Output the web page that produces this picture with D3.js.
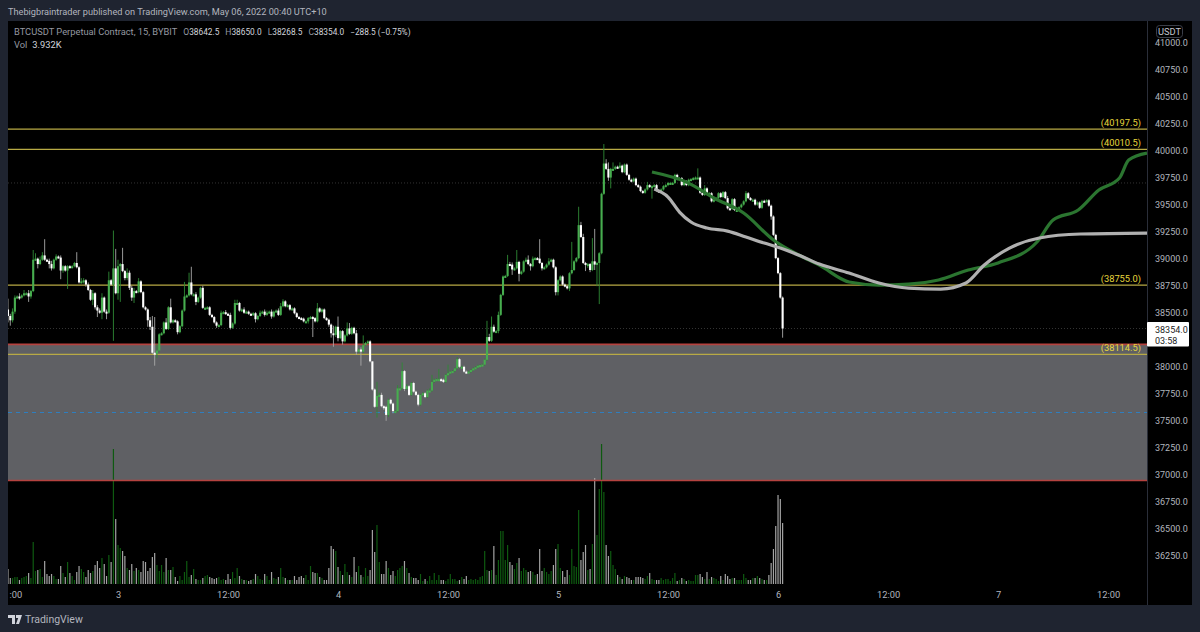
<!DOCTYPE html>
<html>
<head>
<meta charset="utf-8">
<script src="https://cdn.jsdelivr.net/npm/d3@7"></script>
<style>
  html, body { margin: 0; background: #1f2430; overflow: hidden; }
  text { font-family: Roboto, sans-serif; }
</style>
</head>
<body>
<svg id="chart" width="1200" height="632"></svg>
<script>
// 15 minute bars, first one is May 2 12:00
var closes = [
  38470,38430,38510,38640,38650,38640,38660,38680,38680,38650,
  38700,38990,39000,38950,38990,39030,38990,38980,38950,38910,
  38990,39020,39010,38890,38930,38890,38930,38920,38930,38960,
  38920,38780,38790,38800,38760,38710,38620,38680,38550,38520,
  38500,38640,38510,38500,38800,38760,38910,38680,38930,38950,
  38885,38820,38870,38730,38640,38700,38690,38790,38690,38550,
  38530,38430,38370,38130,38120,38150,38300,38310,38410,38350,
  38550,38410,38430,38420,38320,38375,38520,38650,38660,38780,
  38670,38670,38600,38640,38730,38545,38545,38550,38480,38460,
  38410,38380,38385,38500,38505,38490,38480,38360,38400,38590,
  38590,38520,38530,38500,38510,38490,38480,38495,38440,38470,
  38500,38510,38480,38500,38510,38465,38510,38520,38480,38560,
  38605,38560,38570,38530,38540,38495,38460,38450,38445,38420,
  38420,38450,38460,38450,38420,38540,38510,38530,38450,38435,
  38390,38310,38295,38370,38265,38330,38235,38290,38355,38305,
  38360,38310,38140,38160,38140,38200,38220,38235,38050,37790,
  37630,37730,37740,37635,37630,37555,37695,37660,37590,37590,
  37800,37800,37960,37795,37820,37740,37850,37770,37740,37650,
  37740,37755,37720,37780,37780,37860,37880,37885,37885,37880,
  37860,37925,37940,37955,37960,37985,38070,38000,38000,37955,
  37950,37955,37970,37985,37995,38010,38015,38020,38065,38275,
  38240,38370,38325,38330,38480,38665,38835,38840,38950,38945,
  38900,38910,38970,38860,38880,38975,38990,38950,38930,39000,
  39005,39000,38960,38910,38920,38945,38975,38990,38920,38690,
  38800,38835,38760,38745,38725,38865,38895,38975,39005,39310,
  39200,38960,38945,38950,38895,38975,38945,38960,39050,39600,
  39880,39830,39750,39830,39830,39850,39840,39860,39800,39870,
  39775,39730,39715,39740,39680,39665,39625,39610,39640,39680,
  39665,39670,39680,39630,39620,39640,39670,39680,39700,39700,
  39700,39775,39735,39745,39680,39715,39680,39730,39735,39745,
  39750,39750,39610,39590,39650,39605,39605,39530,39545,39560,
  39605,39570,39615,39560,39465,39460,39550,39450,39450,39475,
  39500,39530,39605,39560,39545,39545,39500,39520,39470,39535,
  39530,39540,39490,39390,39220,39005,38866,38640,38354
];
// wick length above / below the body, in price
var wickUp = [
  100,20,30,20,10,30,10,30,10,30,
  10,90,50,10,30,30,150,10,20,30,
  10,20,10,20,10,10,10,10,10,10,
  100,10,30,20,10,20,10,30,10,20,
  20,40,10,20,80,10,350,180,60,10,
  150,10,40,20,20,30,10,30,10,10,
  10,10,30,100,330,60,10,10,10,40,
  10,80,10,10,10,10,10,135,10,90,
  145,10,20,10,10,20,10,10,10,10,
  10,10,10,20,10,20,10,20,10,30,
  30,10,10,20,10,10,10,10,10,10,
  20,10,20,20,10,20,10,10,20,30,
  20,10,10,10,10,10,10,10,10,10,
  10,10,10,10,10,50,10,10,10,10,
  10,10,70,10,95,10,10,10,55,50,
  10,10,30,10,20,90,10,10,10,0,
  10,130,20,20,10,10,10,10,10,10,
  30,10,80,10,20,10,10,10,10,10,
  10,10,10,10,20,65,10,10,95,10,
  10,10,80,10,10,10,20,10,10,10,
  10,10,10,10,10,10,10,10,10,150,
  30,95,20,10,30,10,10,10,85,20,
  20,10,110,10,10,10,20,40,10,20,
  10,10,180,10,10,10,30,10,10,10,
  10,10,10,10,10,10,260,10,10,170,
  30,30,10,10,10,215,300,10,10,10,
  180,40,60,10,60,10,10,30,10,10,
  10,10,10,10,10,10,10,10,10,30,
  10,10,10,10,10,10,10,10,10,10,
  10,10,10,10,10,10,10,10,10,10,
  10,85,10,10,30,10,10,10,10,10,
  10,10,10,10,20,10,10,10,10,10,
  10,10,20,10,10,10,10,10,10,10,
  10,10,10,10,10,10,10,10,10
];
var wickDown = [
  60,50,20,20,10,20,10,10,10,50,
  20,10,10,40,10,10,10,10,40,20,
  10,10,10,80,20,10,170,10,10,10,
  10,10,10,20,20,10,10,50,20,60,
  10,60,10,60,10,10,520,10,60,330,
  10,20,20,20,30,50,10,10,10,10,
  10,60,30,10,110,40,10,10,10,10,
  10,10,10,10,20,10,10,10,10,10,
  10,10,30,10,10,10,10,10,10,10,
  10,20,10,10,10,10,10,15,10,10,
  10,10,10,10,10,10,10,10,30,10,
  10,10,15,10,10,20,10,10,10,10,
  10,10,10,10,10,10,10,10,10,10,
  10,20,10,175,10,10,10,10,10,10,
  20,40,110,20,30,10,30,10,10,10,
  10,10,30,10,130,10,10,10,10,10,
  10,100,10,10,30,55,20,10,20,10,
  10,10,10,20,10,10,10,10,10,15,
  10,10,10,10,10,10,10,10,10,10,
  10,10,10,10,10,10,10,10,10,10,
  10,10,10,10,10,10,10,10,10,10,
  10,10,10,10,20,10,10,10,10,10,
  50,10,10,70,10,10,10,10,40,10,
  10,10,10,20,10,10,10,10,10,30,
  30,10,10,10,10,25,10,10,10,10,
  10,10,60,30,20,10,50,200,380,10,
  10,10,30,100,10,10,10,10,10,10,
  10,10,10,10,10,10,10,10,10,10,
  10,110,10,10,10,10,10,10,10,10,
  10,10,10,10,10,10,10,10,10,10,
  10,10,10,10,10,10,10,10,10,10,
  10,10,10,10,10,10,10,10,10,10,
  10,10,10,10,10,20,10,10,10,10,
  10,10,10,30,10,10,10,10,85
];
var volumes = [
  15,6,6,7,7,4,6,7,8,11,
  6,42,13,14,15,7,23,10,8,10,
  8,5,5,18,11,7,22,11,8,4,
  12,18,15,12,7,14,11,13,19,23,
  16,26,20,8,29,22,135,65,39,36,
  33,28,16,14,20,13,16,14,12,23,
  22,13,16,27,31,19,13,19,12,26,
  14,14,17,7,3,8,4,12,23,7,
  9,15,5,4,4,6,8,9,7,6,
  5,6,7,4,5,4,10,5,12,6,
  16,8,5,4,4,3,4,5,10,8,
  5,4,10,8,4,12,6,5,7,16,
  7,6,4,4,4,8,4,7,8,6,
  9,4,18,12,11,11,7,6,4,4,
  16,38,35,33,17,13,9,20,12,9,
  7,27,12,18,9,7,16,8,14,54,
  32,59,22,10,10,23,16,9,13,8,
  14,16,18,23,16,11,7,6,6,4,
  10,3,5,3,8,4,11,4,9,4,
  4,3,5,10,5,5,3,4,7,5,
  8,4,5,4,5,4,7,8,33,14,
  13,14,38,9,24,53,53,24,39,22,
  19,15,21,26,13,16,14,12,13,12,
  9,10,35,13,16,12,10,13,19,35,
  40,16,13,7,14,9,35,18,17,74,
  24,32,39,14,15,40,106,49,95,140,
  92,39,28,33,19,15,9,7,5,8,
  7,6,4,4,7,7,7,6,5,8,
  11,5,4,4,4,6,4,5,5,3,
  6,11,3,4,6,5,3,4,3,3,
  9,9,10,7,5,12,5,7,6,5,
  3,8,4,10,8,5,6,6,4,4,
  4,10,6,4,4,6,6,8,6,5,
  4,4,9,21,35,58,89,85,61
];
var firstOpen = 38530;

// projected lines, [bar number, price]
var greenBars = [281,297,308,321,334,345,354,367,380,393,406,419,432,449,456,467,476,485,489,497];
var greenPrices = [39801,39699,39561,39422,39172,39034,38941,38784,38756,38765,38802,38895,38960,39154,39357,39450,39635,39746,39912,39977];
var greyBars = [282,288,293,298,305,314,322,330,337,346,354,367,380,393,407,418,426,437,450,468,497];
var greyPrices = [39644,39570,39431,39339,39283,39255,39200,39144,39098,39024,38950,38867,38775,38728,38719,38775,38941,39098,39191,39228,39237];

var levels = [40197.5, 40010.5, 38755.0, 38114.5];
var dottedLevels = [39700, 38354];
var boxTop = 38207, boxBottom = 36948, boxMid = 37577;

var priceTicks = [41000,40750,40500,40250,40000,39750,39500,39250,39000,38750,38500,38000,37750,37500,37250,37000,36750,36500,36250];
var timeTicks = [0,48,96,144,192,240,288,336,384,432,480];
var timeLabels = [':00','3','12:00','4','12:00','5','12:00','6','12:00','7','12:00'];

var plot = { left: 8, right: 1147, top: 21, bottom: 605 };
var numberSize = 9, textSize = 9.3;
var svg = d3.select('#chart');

var x = d3.scaleLinear().domain([0, 497]).range([plot.left, plot.right]);
var y = d3.scaleLinear().domain([36250, 41000]).range([556, 42.4]);
var yVol = d3.scaleLinear().domain([0, 140]).range([584, 444]);

var bars = closes.map(function(c, i) {
  var o = i == 0 ? firstOpen : closes[i - 1];
  return {
    i: i, open: o, close: c, up: c >= o,
    high: Math.max(o, c) + wickUp[i],
    low: Math.min(o, c) - wickDown[i],
    vol: volumes[i]
  };
});

svg.append('rect').attr('x', plot.left).attr('y', plot.top)
  .attr('width', 1192 - plot.left).attr('height', plot.bottom - plot.top).attr('fill', '#000');

svg.append('defs').append('clipPath').attr('id', 'plotclip').append('rect')
  .attr('x', plot.left).attr('y', plot.top)
  .attr('width', plot.right - plot.left).attr('height', plot.bottom - plot.top);

var g = svg.append('g').attr('clip-path', 'url(#plotclip)');

// grey zone
g.append('rect').attr('x', plot.left).attr('width', plot.right - plot.left)
  .attr('y', y(boxTop)).attr('height', y(boxBottom) - y(boxTop)).attr('fill', '#5f6064');

g.selectAll('.dotted').data(dottedLevels).enter().append('line')
  .attr('x1', plot.left).attr('x2', plot.right)
  .attr('y1', function(d) { return y(d); }).attr('y2', function(d) { return y(d); })
  .attr('stroke', '#333').attr('stroke-dasharray', '1,2');

// volume
g.selectAll('.vol').data(bars).enter().append('rect')
  .attr('x', function(d) { return x(d.i) - 0.6; })
  .attr('width', 1.2)
  .attr('y', function(d) { return yVol(d.vol); })
  .attr('height', function(d) { return yVol(0) - yVol(d.vol); })
  .attr('fill', function(d) { return d.up ? '#0e5a10' : '#a3a3a3'; });

// levels
g.selectAll('.level').data(levels).enter().append('line')
  .attr('x1', plot.left).attr('x2', plot.right)
  .attr('y1', function(d) { return y(d); }).attr('y2', function(d) { return y(d); })
  .attr('stroke', '#b8aa45').attr('stroke-width', 1.2);
g.selectAll('.boxline').data([boxTop, boxBottom]).enter().append('line')
  .attr('x1', plot.left).attr('x2', plot.right)
  .attr('y1', function(d) { return y(d); }).attr('y2', function(d) { return y(d); })
  .attr('stroke', '#b5423f').attr('stroke-width', 1.6);
g.append('line').attr('x1', plot.left).attr('x2', plot.right)
  .attr('y1', y(boxMid)).attr('y2', y(boxMid))
  .attr('stroke', '#2f7fc1').attr('stroke-width', 1).attr('stroke-dasharray', '4,4');

// candles
g.selectAll('.wick').data(bars).enter().append('line')
  .attr('x1', function(d) { return x(d.i); }).attr('x2', function(d) { return x(d.i); })
  .attr('y1', function(d) { return y(d.high); }).attr('y2', function(d) { return y(d.low); })
  .attr('stroke', function(d) { return d.up ? '#2f8a36' : '#a8a8a8'; }).attr('stroke-width', 0.9);
g.selectAll('.body').data(bars).enter().append('rect')
  .attr('x', function(d) { return x(d.i) - 1.05; })
  .attr('width', 2.1)
  .attr('y', function(d) { return y(Math.max(d.open, d.close)); })
  .attr('height', function(d) { return Math.max(2, Math.abs(y(d.open) - y(d.close))); })
  .attr('fill', function(d) { return d.up ? '#47ad4f' : '#ffffff'; });

// projected lines
var line = d3.line().curve(d3.curveMonotoneX)
  .x(function(d) { return x(d[0]); }).y(function(d) { return y(d[1]); });
g.append('path').attr('d', line(d3.zip(greenBars, greenPrices)))
  .attr('fill', 'none').attr('stroke', '#2b7530').attr('stroke-width', 3.2);
g.append('path').attr('d', line(d3.zip(greyBars, greyPrices)))
  .attr('fill', 'none').attr('stroke', '#b0b0b0').attr('stroke-width', 3.2);

// level labels
svg.selectAll('.levellabel').data(levels).enter().append('text')
  .attr('x', 1141).attr('text-anchor', 'end')
  .attr('y', function(d) { return y(d) - 3; })
  .attr('fill', '#e6d63c').attr('font-size', numberSize + 0.3)
  .text(function(d) { return '(' + d.toFixed(1) + ')'; });

// axes
var priceAxis = d3.axisRight(y).tickValues(priceTicks).tickSize(0).tickPadding(8)
  .tickFormat(function(d) { return d.toFixed(1); });
var pa = svg.append('g').attr('transform', 'translate(' + plot.right + ',0)').call(priceAxis);
pa.select('.domain').attr('stroke', '#2a2e39').attr('d', 'M0.5,' + plot.top + 'V' + plot.bottom);
pa.selectAll('text').attr('fill', '#b2b5be').attr('font-size', numberSize).attr('font-family', 'Roboto, sans-serif');

var timeAxis = d3.axisBottom(x).tickValues(timeTicks).tickSize(0).tickPadding(7)
  .tickFormat(function(d, i) { return timeLabels[i]; });
var ta = svg.append('g').attr('transform', 'translate(0,584)').call(timeAxis);
ta.select('.domain').remove();
ta.selectAll('text').attr('fill', '#b2b5be').attr('font-size', textSize).attr('font-family', 'Roboto, sans-serif');
// first label is cut by the pane in the original, only ":00" is left
ta.selectAll('text').filter(function(d) { return d == 0; }).attr('text-anchor', 'start').attr('x', 1);

// last price tag
var tag = svg.append('g');
tag.append('rect').attr('x', plot.right).attr('y', 322).attr('width', 42).attr('height', 24.5).attr('rx', 1).attr('fill', '#fff');
tag.append('text').attr('x', 1155).attr('y', 332.5).attr('fill', '#222').attr('font-size', numberSize).text('38354.0');
tag.append('text').attr('x', 1155).attr('y', 344).attr('fill', '#222').attr('font-size', numberSize).text('03:58');

// currency button
svg.append('rect').attr('x', 1156.5).attr('y', 25.5).attr('width', 26).attr('height', 12).attr('rx', 3)
  .attr('fill', '#000').attr('stroke', '#3a3e49');
svg.append('text').attr('x', 1169.5).attr('y', 35).attr('text-anchor', 'middle').attr('fill', '#c4c6cf').attr('font-size', textSize).text('USDT');

// header
svg.append('text').attr('x', 8).attr('y', 14.5).attr('fill', '#b2b5be').attr('font-size', textSize - 0.1)
  .text('Thebigbraintrader published on TradingView.com, May 06, 2022 00:40 UTC+10');

var legend = svg.append('text').attr('x', 14).attr('y', 35).attr('font-size', textSize).attr('fill', '#9598a1');
legend.append('tspan').text('BTCUSDT Perpetual Contract, 15, BYBIT');
[['O','38642.5'],['H','38650.0'],['L','38268.5'],['C','38354.0']].forEach(function(p, i) {
  legend.append('tspan').attr('dx', 6).attr('font-size', 8.6).text(p[0]);
  legend.append('tspan').attr('fill', '#d1d4dc').attr('font-size', 8.3).text(p[1]);
});
legend.append('tspan').attr('dx', 6).attr('fill', '#d1d4dc').attr('font-size', 8.3).text('\u2212288.5 (\u22120.75%)');
var vol = svg.append('text').attr('x', 14).attr('y', 48).attr('font-size', textSize).attr('fill', '#9598a1');
vol.append('tspan').text('Vol');
vol.append('tspan').attr('dx', 5).attr('fill', '#d1d4dc').text('3.932K');

// footer logo
svg.append('path').attr('fill', '#d1d4dc')
  .attr('d', 'M8,615H15V624H12V618H8Z M16,615H19L22,615L19,624H16L18.2,618H16Z');
svg.append('text').attr('x', 25).attr('y', 623).attr('fill', '#b2b5be').attr('font-size', 10.5).text('TradingView');

if (closes.length != 339 || wickUp.length != 339 || wickDown.length != 339 || volumes.length != 339) {
  throw new Error('bad lengths ' + [closes.length, wickUp.length, wickDown.length, volumes.length]);
}
</script>
</body>
</html>
